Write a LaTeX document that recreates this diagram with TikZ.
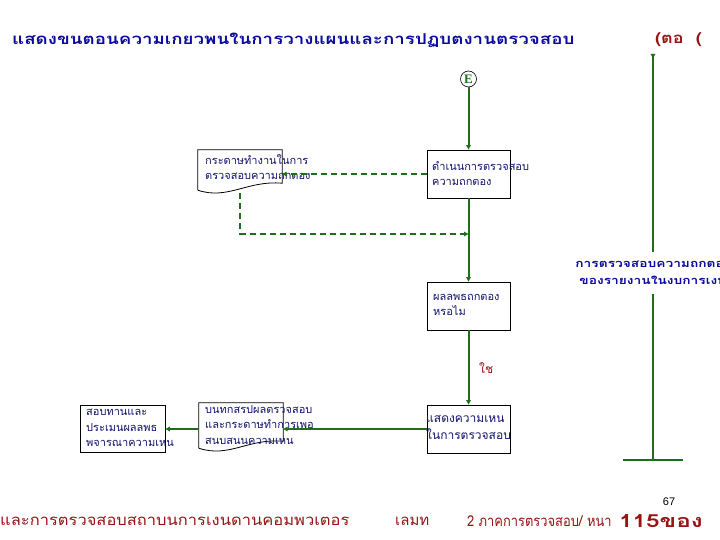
\documentclass[tikz,border=0pt]{standalone}
\usepackage{fontspec}
\usepackage{graphicx}
\newfontfamily\thai[Script=Thai]{Loma}
\setsansfont{Liberation Sans}
\setmainfont{Liberation Serif}
\usetikzlibrary{arrows.meta,calc}
\definecolor{lgreen}{RGB}{30,110,30}
\definecolor{tblue}{RGB}{10,10,160}
\definecolor{nblue}{RGB}{20,20,110}
\definecolor{tred}{RGB}{150,20,20}
\tikzset{
  flow/.style={draw=lgreen,line width=2pt},
  tip/.style={-{Triangle[length=4.5pt,width=4.5pt]}},
  dashflow/.style={draw=lgreen,line width=2pt,dash pattern=on 6pt off 4pt},
  boxnode/.style={draw=black,line width=0.8pt,minimum width=83pt,minimum height=48pt,inner sep=0pt},
  docnode/.style={minimum width=84pt,minimum height=40pt,inner sep=0pt},
  docline/.style={draw=black,line width=0.8pt},
  btext/.style={anchor=north west,align=left,inner sep=0pt,text=nblue,font=\thai\fontsize{11}{15.5}\selectfont},
}
\begin{document}
\begin{tikzpicture}[x=1pt,y=-1pt]
\useasboundingbox (0,0) rectangle (720,540);
\fill[white] (0,0) rectangle (720,540);

% title
\node[anchor=west,inner sep=0pt,text=tblue,font=\thai\bfseries\fontsize{15}{18}\selectfont] (title) at (12,40) {\scalebox{1.25}[1]{แสดงขนตอนความเกยวพนในการวางแผนและการปฏบตงานตรวจสอบ}};
\node[anchor=west,inner sep=0pt,text=tred,font=\thai\bfseries\fontsize{15}{18}\selectfont] (cont) at (655,40) {\scalebox{1.2}[1]{(ตอ\ \ (}};

% E connector
\node[circle,draw=black,line width=0.6pt,minimum size=16pt,inner sep=0pt,text=lgreen,font=\bfseries\fontsize{13}{13}\selectfont] (e) at (468.5,79) {E};

% boxes
\node[boxnode] (b1) at (468.5,174) {};
\node[boxnode] (b2) at (468.5,306) {};
\node[boxnode] (b3) at (468.5,429) {};
\node[boxnode,minimum width=85pt,minimum height=47pt] (b5) at (122.5,428.5) {};

% documents
\node[docnode] (d1) at (240,170) {};
\draw[docline] (d1.south west) -- (d1.north west) -- (d1.north east) -- ($(d1.south east)+(0,-7)$)
  .. controls ($(d1.south east)+(-35,-10)$) and ($(d1.south west)+(30,10)$) .. (d1.south west);
\node[docnode,minimum height=45pt] (d2) at (241,425.5) {};
\draw[docline] (d2.south west) -- (d2.north west) -- (d2.north east) -- ($(d2.south east)+(0,-7)$)
  .. controls ($(d2.south east)+(-35,-10)$) and ($(d2.south west)+(30,10)$) .. (d2.south west);
\coordinate (d1b) at (240,193.5);

% texts
\node[btext] (t1) at (432,161) {ดำเนนการตรวจสอบ\\ความถกตอง};
\node[btext] (t2) at (433,294) {ผลลพธถกตอง\\หรอไม};
\node[btext,font=\thai\fontsize{12}{17}\selectfont] (t3) at (426,415) {แสดงความเหน\\ในการตรวจสอบ};
\node[btext] (t4) at (205,154) {กระดาษทำงานในการ\\ตรวจสอบความถกตอง};
\node[btext] (t5) at (205,405) {บนทกสรปผลตรวจสอบ\\และกระดาษทำการเพอ\\สนบสนนความเหน};
\node[btext] (t6) at (86,409) {สอบทานและ\\ประเมนผลลพธ\\พจารณาความเหน};
\node[anchor=west,inner sep=0pt,text=tred,font=\thai\fontsize{12}{13}\selectfont] (yes) at (479,368) {ใช};

% main flow
\draw[flow,tip] (e) -- (b1);
\draw[flow,tip] (b1) -- (b2);
\draw[flow,tip] (b2) -- (b3);
\draw[flow,tip] (b3.west) -- (b3.west -| d2.east);
\draw[flow,tip] (d2.west |- b3.west) -- (b3.west -| b5.east);

% dashed
\draw[dashflow,tip] (b1.west) -- (b1.west -| d1.east);
\coordinate (c1) at (240,234);
\draw[dashflow,tip] (d1b) -- (c1) -- (c1 -| b1.south);

% right vertical
\coordinate (r0) at (653,54);
\coordinate (r1) at (653,252);
\coordinate (r2) at (653,294);
\coordinate (r3) at (653,460);
\coordinate (rl) at (623,460);
\coordinate (rr) at (683,460);
\draw[flow,{Triangle[reversed,length=4.5pt,width=4.5pt]}-] (r0) -- (r1);
\draw[draw=lgreen,line width=2.8pt] ($(r1)+(0,-19)$) -- (r1);
\draw[flow] (r2) -- (r3);
\draw[draw=lgreen,line width=2.8pt] (r2) -- ($(r2)+(0,16)$);
\draw[flow] (rl) -- (rr);
\node[align=center,inner sep=0pt,text=tblue,font=\thai\bfseries\fontsize{11}{17}\selectfont] (rt) at (653,273) {\scalebox{1.25}[1]{การตรวจสอบความถกตอง}\\\scalebox{1.25}[1]{ของรายงานในงบการเงน}};

% footer
\node[anchor=west,inner sep=0pt,text=tred,font=\thai\fontsize{15}{16}\selectfont] (f1) at (0,521) {\scalebox{1.1}[1]{และการตรวจสอบสถาบนการเงนดานคอมพวเตอร}};
\node[anchor=west,inner sep=0pt,text=tred,font=\thai\fontsize{15}{16}\selectfont] (f2) at (395,521) {เลมท};
\node[anchor=west,inner sep=0pt,text=tred,font=\thai\fontsize{15}{16}\selectfont] (f3) at (467,521) {\scalebox{0.86}[1]{2 ภาคการตรวจสอบ/ หนา}};
\node[anchor=west,inner sep=0pt,text=tred,font=\thai\bfseries\fontsize{18}{20}\selectfont] (f4) at (619,521) {\scalebox{1.35}[1]{115ของ}};
\node[inner sep=0pt,font=\sffamily\fontsize{11}{12}\selectfont] (pg) at (669,502) {67};
\end{tikzpicture}
\end{document}
